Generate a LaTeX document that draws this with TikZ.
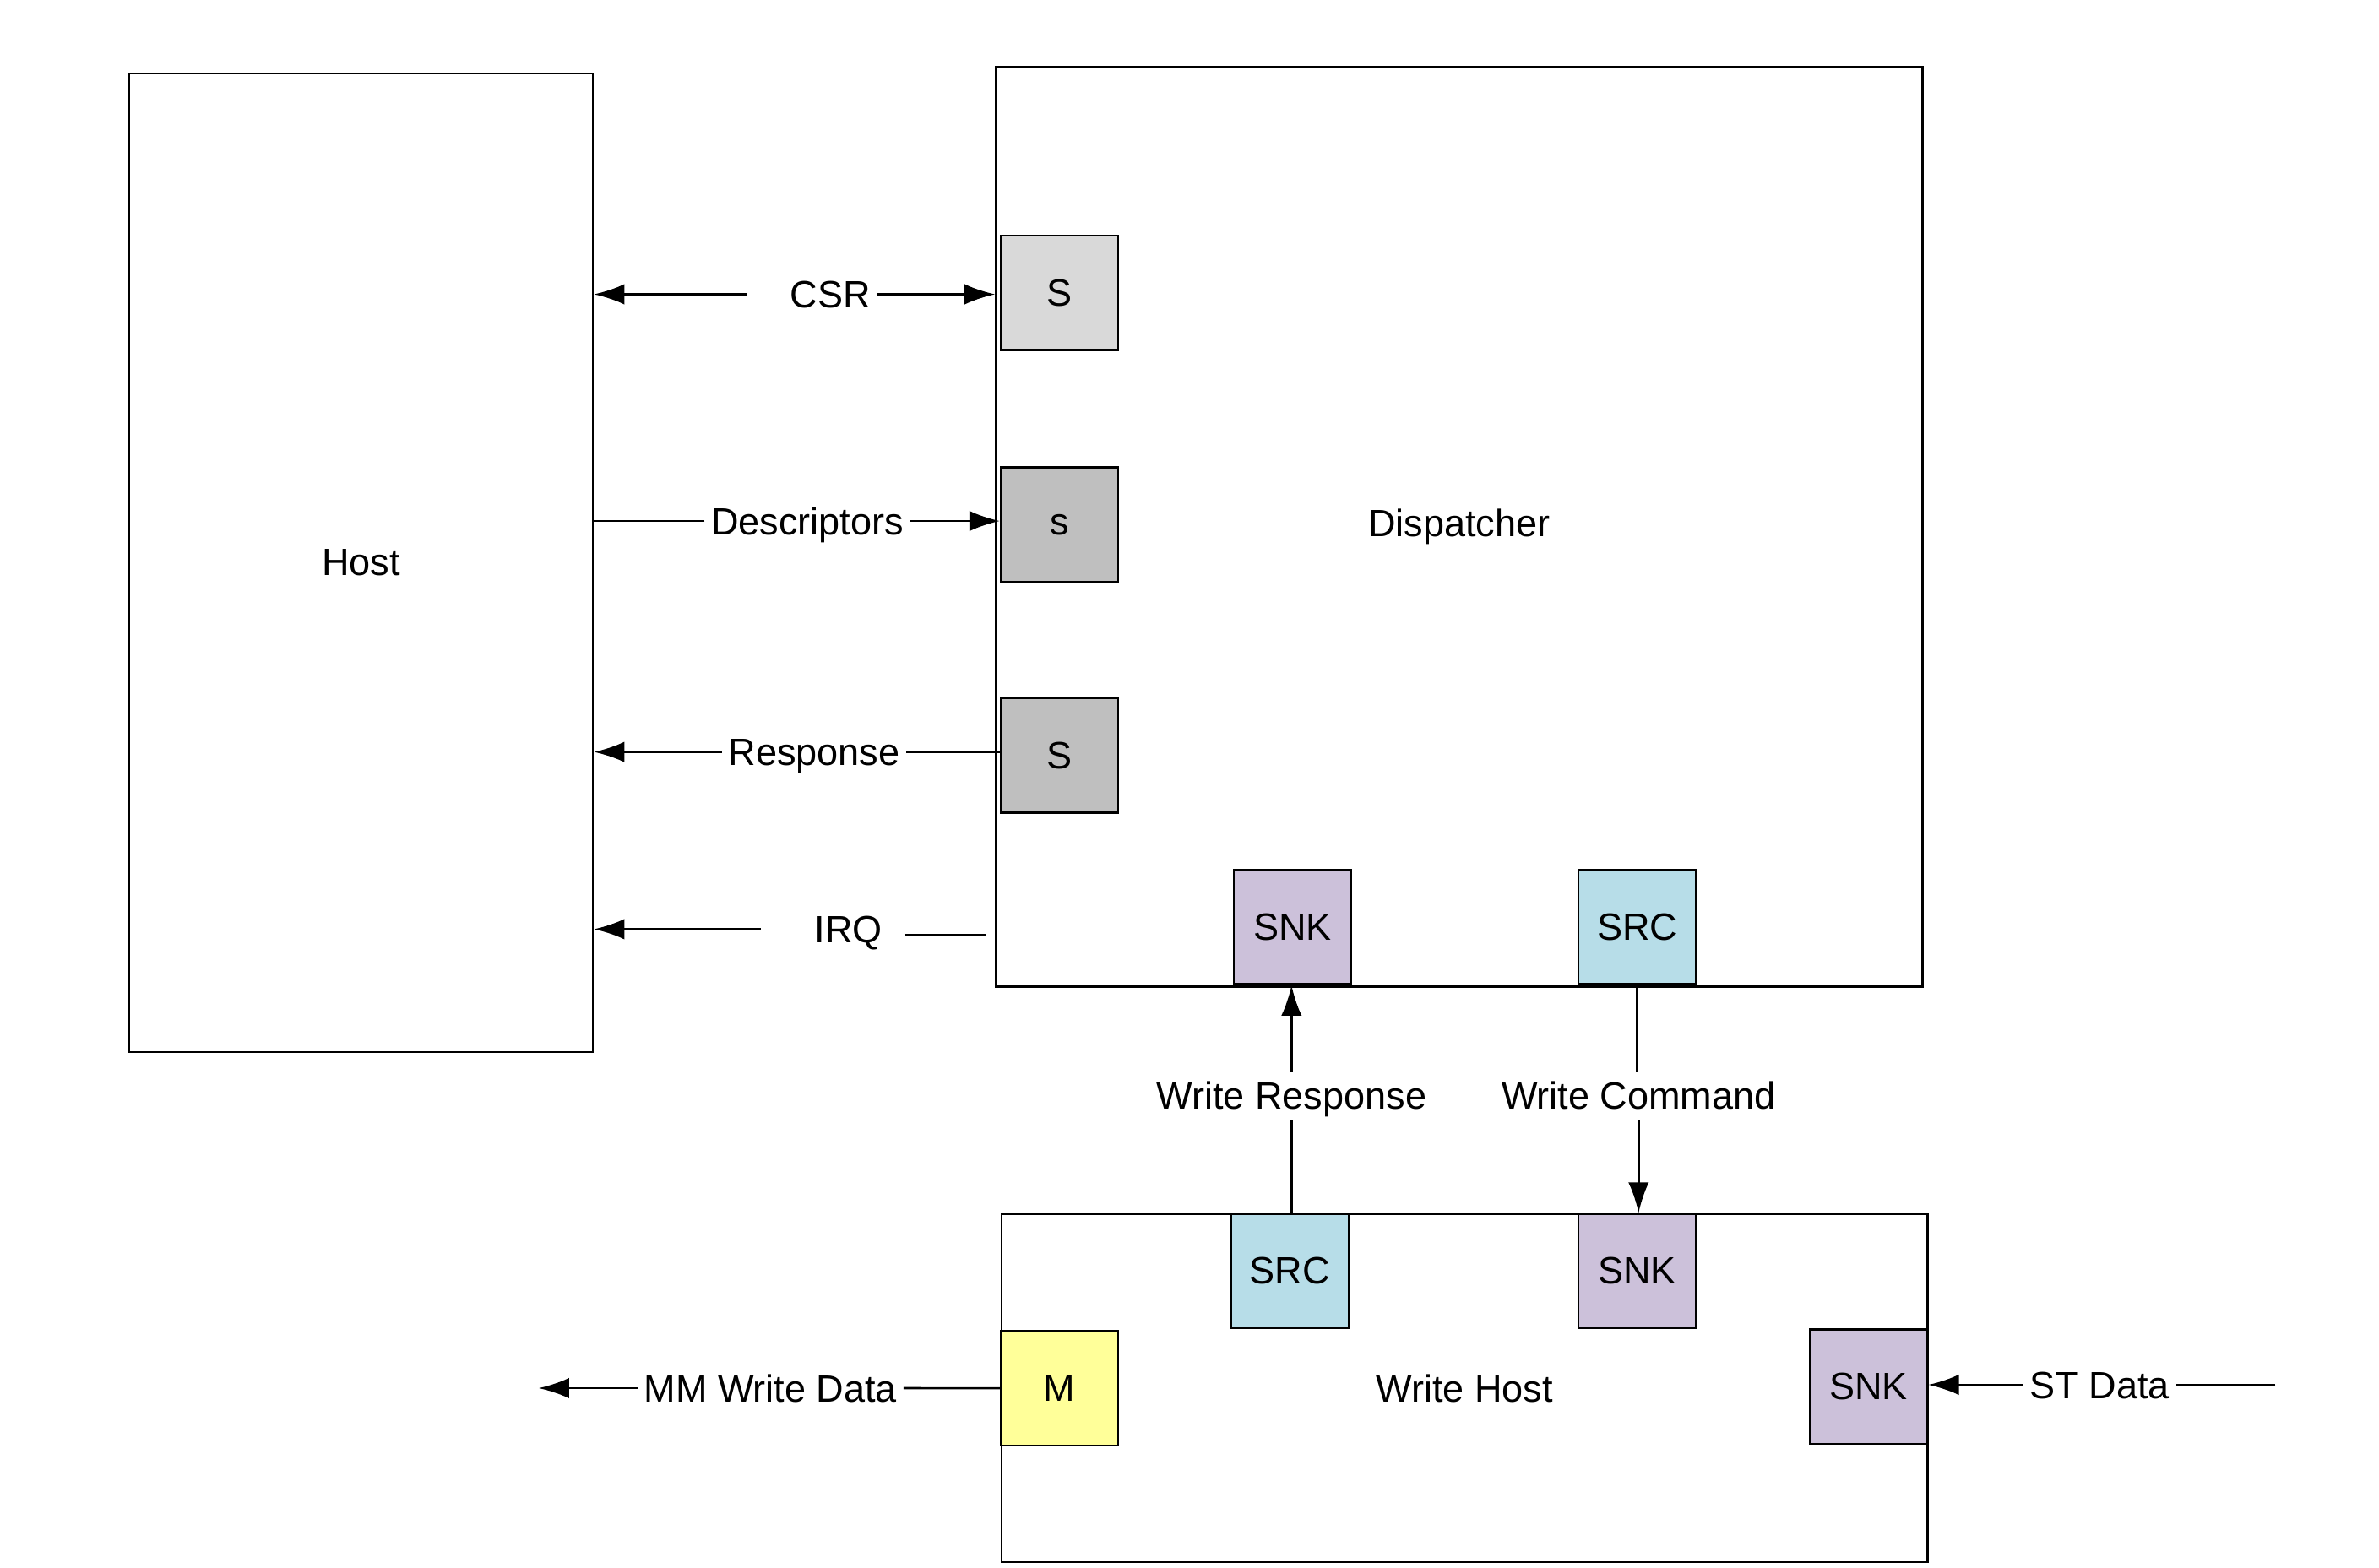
\documentclass[tikz,border=0pt]{standalone}
\usepackage{fontspec}
\setmainfont{Liberation Sans}
\usetikzlibrary{arrows.meta}
\definecolor{slavelight}{HTML}{D9D9D9}
\definecolor{slavedark}{HTML}{BFBFBF}
\definecolor{sinkcol}{HTML}{CCC1DA}
\definecolor{srccol}{HTML}{B7DDE8}
\definecolor{mastercol}{HTML}{FFFF99}
\tikzset{
	block/.style={draw, line width=0.8pt, inner sep=0pt},
	port/.style={draw, line width=0.8pt, minimum width=1.54cm, minimum height=1.5cm, inner sep=0pt},
	lbl/.style={inner xsep=0.08cm, inner ysep=0.13cm, text height=10.2pt, text depth=0pt},
	sig/.style={line width=0.8pt},
	sigarrow/.style={line width=0.8pt, -{Latex[length=4mm,width=2.7mm]}}
}
\begin{document}
\begin{tikzpicture}[x=0.02cm, y=-0.02cm, font=\fontsize{14.2}{17}\selectfont]
				\useasboundingbox (0,0) rectangle (1560,1028);
				% blocks
				\node[block, minimum width=6.08cm, minimum height=12.84cm] (host) at (236.8,369) {Host};
				\node[block, minimum width=12.15cm, minimum height=12.07cm] (disp) at (956.9,345.4) {Dispatcher};
				\node[block, minimum width=12.15cm, minimum height=4.56cm] (wh) at (960.4,910.4) {Write Host};
				% ports
				\node[port, fill=slavelight] (s1) at (694.8,192) {S};
				\node[port, fill=slavedark] (s2) at (694.8,344) {s};
				\node[port, fill=slavedark] (s3) at (694.8,495.5) {S};
				\node[port, fill=sinkcol] (dsnk) at (847.5,608) {SNK};
				\node[port, fill=srccol] (dsrc) at (1073.6,608) {SRC};
				\node[port, fill=srccol] (wsrc) at (845.8,833.7) {SRC};
				\node[port, fill=sinkcol] (wsnk) at (1073.6,833.7) {SNK};
				\node[port, fill=mastercol] (m) at (694.8,910.5) {M};
				\node[port, fill=sinkcol] (ssnk) at (1225.3,909.4) {SNK};
				% labels
				\node[lbl] (csr) at (544.4,193) {CSR};
				\node[lbl] (desc) at (529.5,341.7) {Descriptors};
				\node[lbl] (resp) at (533.8,493.2) {Response};
				\node[lbl] (irq) at (556.4,609.4) {IRQ};
				\node[lbl] (wresp) at (846.9,718.7) {Write Response};
				\node[lbl] (wcmd) at (1074.5,718.7) {Write Command};
				\node[lbl] (mm) at (505.2,910.4) {MM Write Data};
				\node[lbl] (st) at (1376.9,908.2) {ST Data};
				% free ends
				\coordinate (csrL) at (489.6,193);
				\coordinate (irqL) at (499,609.4);
				\coordinate (irqA) at (593.6,613.3);
				\coordinate (irqB) at (646.4,613.3);
				\coordinate (mmL) at (353.2,910.4);
				\coordinate (stR) at (1492.1,908.2);
				% host side
				\draw[sigarrow] (csrL) -- (csrL -| host.east);
				\draw[sigarrow] (csr.east) -- (csr.east -| disp.west);
				\draw[sig] (desc.west) -- (desc.west -| host.east);
				\draw[sigarrow] (desc.east) -- (desc.east -| s2.west);
				\draw[sigarrow] (resp.west) -- (resp.west -| host.east);
				\draw[sig] (resp.east) -- (resp.east -| s3.west);
				\draw[sigarrow] (irqL) -- (irqL -| host.east);
				\draw[sig] (irqA) -- (irqB);
				% write host
				\draw[sigarrow] (wresp.north) -- (wresp.north |- dsnk.south);
				\draw[sig] (wresp.south) -- (wresp.south |- wsrc.north);
				\draw[sig] (dsrc.south) -- (dsrc.south |- wcmd.north);
				\draw[sigarrow] (wcmd.south) -- (wcmd.south |- wsnk.north);
				\draw[sig] (m.west) -- (mm.east);
				\draw[sigarrow] (mm.west) -- (mmL);
				\draw[sigarrow] (st.west) -- (st.west -| ssnk.east);
				\draw[sig] (stR) -- (st.east);
				\end{tikzpicture}
\end{document}
